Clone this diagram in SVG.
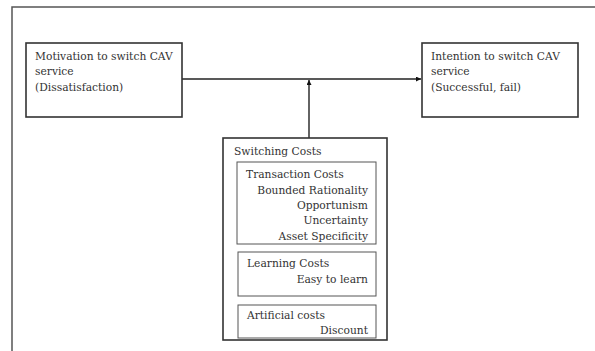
<svg xmlns="http://www.w3.org/2000/svg" width="595" height="351" viewBox="0 0 595 351">
<defs>
<style>
.t{font-family:"DejaVu Serif","Liberation Serif",serif;font-size:10.7px;fill:#333}
.r{text-anchor:end}
.box{fill:#fff;stroke:#333;stroke-width:1.6}
.inner{fill:#fff;stroke:#555;stroke-width:1}
.ln{stroke:#222;stroke-width:1.4;fill:none}
</style>
<marker id="ah" viewBox="0 0 6 6" refX="6" refY="3" markerWidth="5" markerHeight="5" orient="auto" markerUnits="userSpaceOnUse">
<path d="M0,0 L6,3 L0,6 z" fill="#111"/>
</marker>
</defs>
<rect width="595" height="351" fill="#fff"/>
<g id="frame">
<path d="M12,351 V7 H595" fill="none" stroke="#555" stroke-width="1.5"/>
</g>
<g id="connectors">
<line class="ln" x1="182" y1="79" x2="421" y2="79" marker-end="url(#ah)"/>
<line class="ln" x1="309" y1="138" x2="309" y2="80" marker-end="url(#ah)" stroke-width="1.8"/>
</g>
<g id="motivation">
<rect class="box" x="26" y="43" width="156" height="74"/>
<text class="t" x="35" y="60">Motivation to switch CAV</text>
<text class="t" x="35" y="75">service</text>
<text class="t" x="35" y="91">(Dissatisfaction)</text>
</g>
<g id="intention">
<rect class="box" x="422" y="43" width="156" height="74"/>
<text class="t" x="431" y="60">Intention to switch CAV</text>
<text class="t" x="431" y="75">service</text>
<text class="t" x="431" y="91">(Successful, fail)</text>
</g>
<g id="switching">
<rect class="box" x="223" y="138" width="164" height="202" stroke-width="2"/>
<text class="t" x="234" y="155">Switching Costs</text>
<g id="transaction">
<rect class="inner" x="237" y="162" width="139" height="82"/>
<text class="t" x="246" y="178">Transaction Costs</text>
<text class="t r" x="368" y="194">Bounded  Rationality</text>
<text class="t r" x="368" y="209">Opportunism</text>
<text class="t r" x="368" y="224">Uncertainty</text>
<text class="t r" x="368" y="240">Asset  Specificity</text>
</g>
<g id="learning">
<rect class="inner" x="238" y="252" width="138" height="44"/>
<text class="t" x="247" y="267">Learning Costs</text>
<text class="t r" x="368" y="283">Easy  to  learn</text>
</g>
<g id="artificial">
<rect class="inner" x="238" y="305" width="138" height="33"/>
<text class="t" x="247" y="319">Artificial costs</text>
<text class="t r" x="368" y="334">Discount</text>
</g>
</g>
</svg>
